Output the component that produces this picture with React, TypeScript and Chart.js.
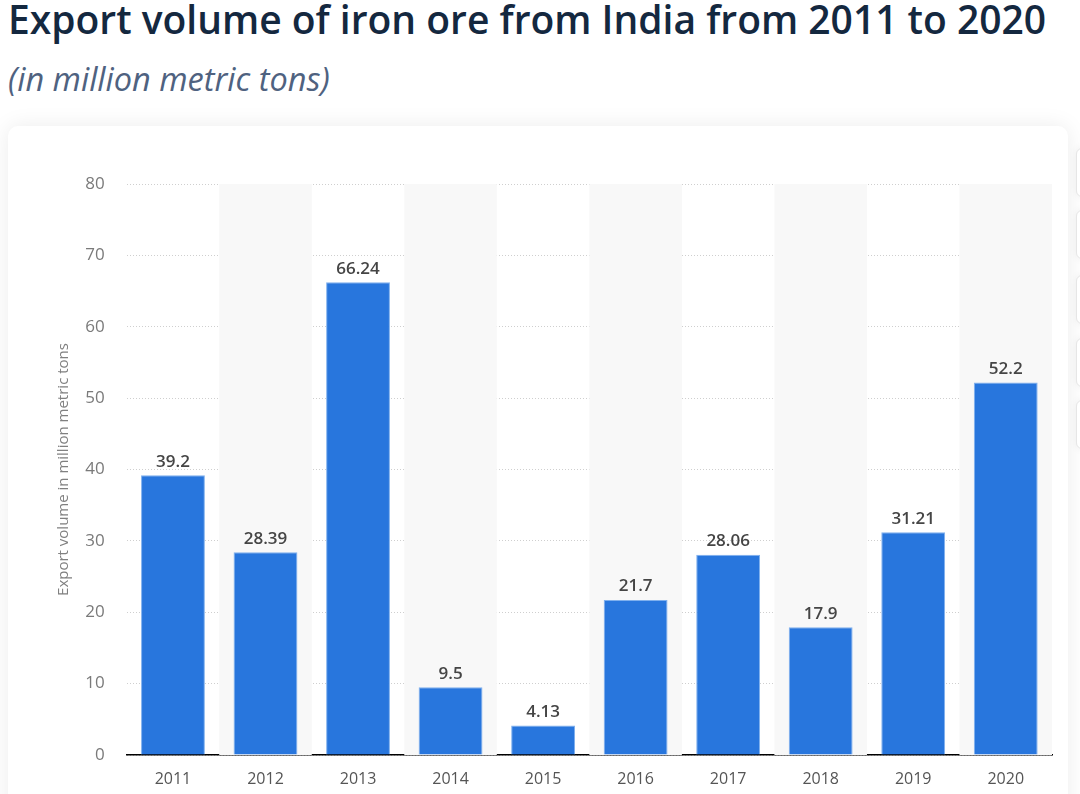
import React, { useEffect, useRef } from "react";
import { Chart, registerables } from "chart.js";

Chart.register(...registerables);

const titleText = "Export volume of iron ore from India from 2011 to 2020";
const subtitleText = "(in million metric tons)";
const yAxisTitle = "Export volume in million metric tons";
const years = ["2011", "2012", "2013", "2014", "2015", "2016", "2017", "2018", "2019", "2020"];
const exportVolume = [39.2, 28.39, 66.24, 9.5, 4.13, 21.7, 28.06, 17.9, 31.21, 52.2];
const yMin = 0;
const yMax = 80;
const yStep = 10;

const bandPlugin = {
  id: "bands",
  beforeDatasetsDraw(chart: any) {
    const { ctx, chartArea } = chart;
    const x = chart.scales.x;
    const n = chart.data.labels.length;
    const w = (chartArea.right - chartArea.left) / n;
    ctx.save();
    ctx.fillStyle = "#f8f8f8";
    for (let i = 1; i < n; i += 2) {
      const c = x.getPixelForValue(i);
      ctx.fillRect(c - w / 2, chartArea.top, w, chartArea.bottom - chartArea.top);
    }
    ctx.restore();
  },
};

const labelPlugin = {
  id: "valueLabels",
  afterDatasetsDraw(chart: any) {
    const { ctx } = chart;
    const meta = chart.getDatasetMeta(0);
    const data = chart.data.datasets[0].data;
    ctx.save();
    ctx.font = "600 17px 'Open Sans', sans-serif";
    ctx.fillStyle = "#454545";
    ctx.textAlign = "center";
    ctx.textBaseline = "middle";
    meta.data.forEach((bar: any, i: number) => {
      ctx.fillText(String(data[i]), bar.x, bar.y - 13.5);
    });
    ctx.restore();
  },
};

function ChartCanvas() {
  const ref = useRef<HTMLCanvasElement>(null);
  useEffect(() => {
    if (!ref.current) return;
    const chart = new Chart(ref.current, {
      type: "bar",
      data: {
        labels: years,
        datasets: [
          {
            data: exportVolume,
            backgroundColor: "#2876dd",
            borderColor: "#7fb0ee",
            borderWidth: { top: 1, left: 1, right: 1, bottom: 0 },
            categoryPercentage: 1,
            barPercentage: 0.69,
          },
        ],
      },
      options: {
        animation: false,
        responsive: false,
        maintainAspectRatio: false,
        layout: { padding: { left: 50, top: 54, right: 13, bottom: 0 } },
        plugins: { legend: { display: false }, tooltip: { enabled: false } },
        scales: {
          x: {
            grid: { display: false, drawTicks: false },
            border: { display: true, color: "#000000", width: 1.5 },
            ticks: {
              color: "#555555",
              font: { family: "'Open Sans', sans-serif", size: 16 },
              padding: 15,
            },
            afterFit: (s: any) => {
              s.height = 39;
            },
          },
          y: {
            min: yMin,
            max: yMax,
            ticks: {
              stepSize: yStep,
              color: "#7a7a7a",
              font: { family: "'Open Sans', sans-serif", size: 17 },
              padding: 22,
            },
            grid: {
              color: "#cfcfcf",
              lineWidth: 1,
              drawTicks: false,
            },
            border: { display: false, dash: [1, 2] },
            title: {
              display: true,
              text: yAxisTitle,
              color: "#808080",
              font: { family: "'Open Sans', sans-serif", size: 15 },
              padding: { top: 5, bottom: 0 },
            },
            afterFit: (s: any) => {
              s.width = 76.7;
            },
          },
        },
      },
      plugins: [bandPlugin, labelPlugin],
    });
    return () => chart.destroy();
  }, []);
  return (
    <canvas
      ref={ref}
      width={1065}
      height={664}
      style={{ position: "absolute", left: 0, top: 130, width: 1065, height: 664 }}
    />
  );
}

const sideButtons = [148, 210, 275, 338, 400];

export default function App() {
  return (
    <div
      style={{
        position: "fixed",
        left: 0,
        top: 0,
        width: 1080,
        height: 794,
        overflow: "hidden",
        background: "#ffffff",
        fontFamily: "'Open Sans', sans-serif",
      }}
    >
      <div
        style={{
          position: "absolute",
          left: 8,
          top: -1,
          fontSize: 39,
          fontWeight: 600,
          color: "#14283f",
          whiteSpace: "nowrap",
          lineHeight: "40px",
        }}
      >
        {titleText}
      </div>
      <div
        style={{
          position: "absolute",
          left: 8,
          top: 59,
          fontSize: 32.5,
          fontStyle: "italic",
          color: "#4f6280",
          whiteSpace: "nowrap",
          lineHeight: "40px",
        }}
      >
        {subtitleText}
      </div>
      <div
        style={{
          position: "absolute",
          left: 8,
          top: 126,
          width: 1060,
          height: 700,
          background: "#ffffff",
          borderRadius: 10,
          boxShadow: "0 0 22px rgba(0,0,0,0.08)",
        }}
      />
      {sideButtons.map((t, i) => (
        <div
          key={i}
          style={{
            position: "absolute",
            left: 1076,
            top: t,
            width: 40,
            height: 47,
            background: "#ffffff",
            border: "1px solid #e6e6e6",
            borderRadius: 6,
            boxShadow: "0 0 8px rgba(0,0,0,0.06)",
          }}
        />
      ))}
      <ChartCanvas />
    </div>
  );
}
